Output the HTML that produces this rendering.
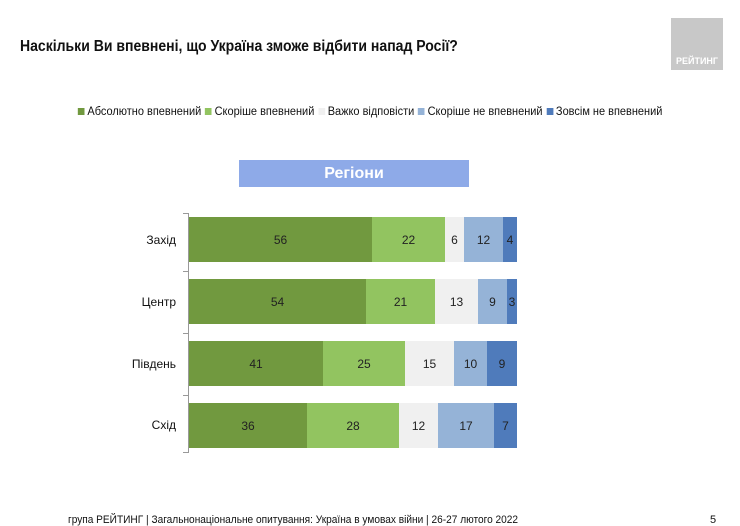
<!DOCTYPE html>
<html><head><meta charset="utf-8"><style>
body{margin:0;width:740px;height:526px;background:#fff;position:relative;overflow:hidden;font-family:"Liberation Sans",sans-serif;color:#111}
.a{position:absolute;white-space:nowrap}
.bar{position:absolute;left:189px;height:45px;display:flex}
.bar div{height:100%;display:flex;align-items:center;justify-content:center;font-size:12px;color:#222}
.c1{background:#71993f}.c2{background:#92c460}.c3{background:#f0f0f0}.c4{background:#95b3d7}.c5{background:#4f7bbb}
.lg{display:inline-block;width:7px;height:7px;margin:0 3px 0 4px;vertical-align:0px}
</style></head><body>
<div class="a" style="left:20px;top:38px;font-size:15.5px;font-weight:bold;transform:scaleX(0.905);transform-origin:left">Наскільки Ви впевнені, що Україна зможе відбити напад Росії?</div>
<div class="a" style="left:671px;top:18px;width:52px;height:52px;background:#c8c8c8"></div>
<div class="a" style="left:671px;top:56px;width:52px;font-size:9px;font-weight:bold;color:#fff;text-align:center">РЕЙТИНГ</div>
<div class="a" style="left:74px;top:106px;font-size:11.5px;transform:scaleX(0.955);transform-origin:left">
<span class="lg c1"></span>Абсолютно впевнений<span class="lg c2"></span>Скоріше впевнений<span class="lg c3"></span>Важко відповісти<span class="lg c4"></span>Скоріше не впевнений<span class="lg c5"></span>Зовсім не впевнений</div>
<div class="a" style="left:239px;top:160px;width:230px;height:27px;background:#8eaae8;color:#fff;font-weight:bold;font-size:16px;text-align:center;line-height:27px">Регіони</div>
<div class="a" style="left:188px;top:213px;width:1px;height:240px;background:#999"></div>
<div class="a" style="left:183px;top:213px;width:5px;height:1px;background:#999"></div>
<div class="a" style="left:183px;top:271px;width:5px;height:1px;background:#999"></div>
<div class="a" style="left:183px;top:333px;width:5px;height:1px;background:#999"></div>
<div class="a" style="left:183px;top:395px;width:5px;height:1px;background:#999"></div>
<div class="a" style="left:183px;top:452px;width:5px;height:1px;background:#999"></div>
<div class="a" style="left:120px;top:233px;width:56px;text-align:right;font-size:12px">Захід</div>
<div class="a" style="left:120px;top:295px;width:56px;text-align:right;font-size:12px">Центр</div>
<div class="a" style="left:120px;top:357px;width:56px;text-align:right;font-size:12px">Південь</div>
<div class="a" style="left:120px;top:418px;width:56px;text-align:right;font-size:12px">Схід</div>
<div class="bar" style="top:217px"><div class="c1" style="width:183px">56</div><div class="c2" style="width:73px">22</div><div class="c3" style="width:19px">6</div><div class="c4" style="width:39px">12</div><div class="c5" style="width:14px">4</div></div>
<div class="bar" style="top:279px"><div class="c1" style="width:177px">54</div><div class="c2" style="width:69px">21</div><div class="c3" style="width:43px">13</div><div class="c4" style="width:29px">9</div><div class="c5" style="width:10px">3</div></div>
<div class="bar" style="top:341px"><div class="c1" style="width:134px">41</div><div class="c2" style="width:82px">25</div><div class="c3" style="width:49px">15</div><div class="c4" style="width:33px">10</div><div class="c5" style="width:30px">9</div></div>
<div class="bar" style="top:403px"><div class="c1" style="width:118px">36</div><div class="c2" style="width:92px">28</div><div class="c3" style="width:39px">12</div><div class="c4" style="width:56px">17</div><div class="c5" style="width:23px">7</div></div>
<div class="a" style="left:68px;top:514px;font-size:11px;transform:scaleX(0.92);transform-origin:left">група РЕЙТИНГ | Загальнонаціональне опитування: Україна в умовах війни | 26-27 лютого 2022</div>
<div class="a" style="left:710px;top:514px;font-size:11px">5</div>
</body></html>
